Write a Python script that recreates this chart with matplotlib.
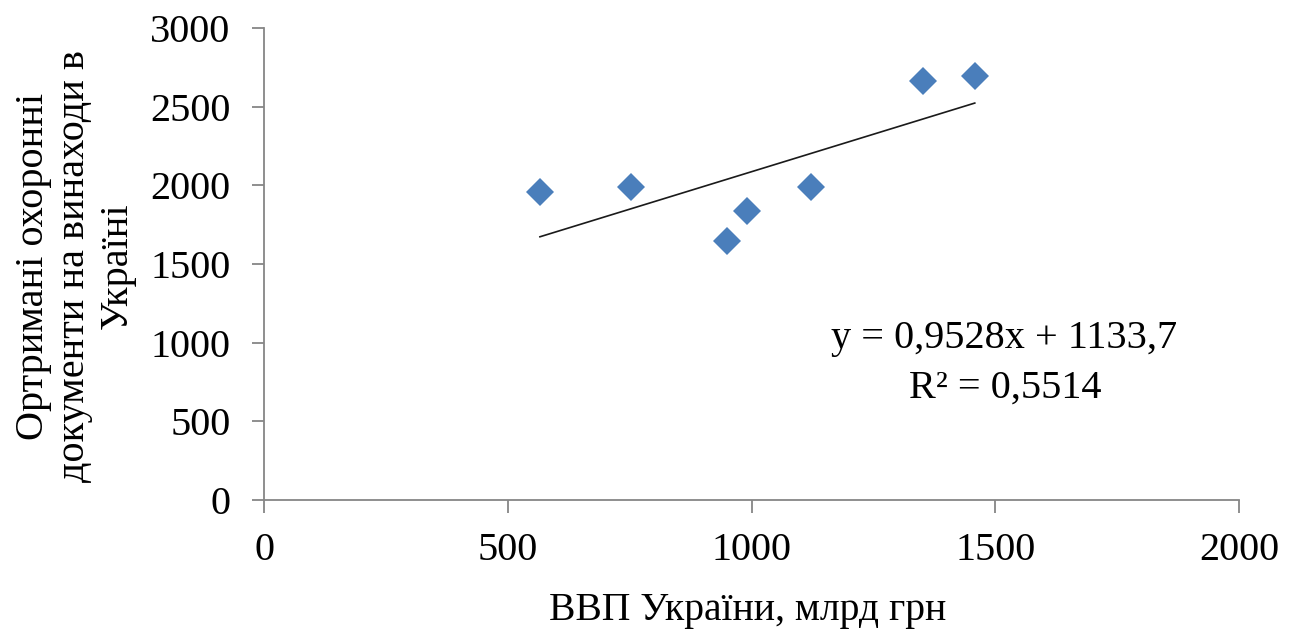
import matplotlib
matplotlib.use("Agg")
import matplotlib.pyplot as plt
import numpy as np

gdp = [566, 753, 950, 991, 1122, 1352, 1458]
patents = [1958, 1990, 1646, 1837, 1990, 2664, 2695]
slope = 0.9528
intercept = 1133.7
eq_line1 = "y = 0,9528x + 1133,7"
eq_line2 = "R² = 0,5514"
x_ticks = [0, 500, 1000, 1500, 2000]
y_ticks = [0, 500, 1000, 1500, 2000, 2500, 3000]
x_label = "ВВП України, млрд грн"
y_label = "Ортримані охоронні\nдокументи на винаходи в\nУкраїні"

W, H = 1293, 630
plt.rcParams['font.family'] = ['Liberation Serif', 'DejaVu Serif']
fig = plt.figure(figsize=(W/100, H/100), dpi=100)
ax = fig.add_axes([264/W, 1-500/H, (1239-264)/W, (500-28)/H])

xs = np.array([min(gdp), max(gdp)])
ax.plot(xs, slope*xs + intercept, color='#1a1a1a', lw=1.2, zorder=2)
ax.plot(gdp, patents, linestyle='none', marker='D', markersize=14,
        color='#4A7EBB', markeredgewidth=0, zorder=3)

ax.set_xlim(0, 2000)
ax.set_ylim(0, 3000)
ax.set_xticks(x_ticks)
ax.set_yticks(y_ticks)
for s in ['top', 'right']:
    ax.spines[s].set_visible(False)
for s in ['left', 'bottom']:
    ax.spines[s].set_color('#868686')
    ax.spines[s].set_linewidth(1.3)
ax.tick_params(axis='both', colors='#868686', length=9, width=1.3,
               labelsize=29, labelcolor='black', direction='out')
ax.tick_params(axis='y', pad=15)
ax.tick_params(axis='x', pad=14)

fig.text(1004/W, 1-348/H, eq_line1, fontsize=29, ha='center', va='baseline')
fig.text(1005/W, 1-398/H, eq_line2, fontsize=29, ha='center', va='baseline')

fig.text(748/W, 1-620/H, x_label, fontsize=28.5, ha='center', va='baseline')
fig.text(75/W, 1-266/H, y_label, fontsize=29, ha='center', va='center',
         rotation=90, multialignment='center', linespacing=1.17)

fig.savefig('out.png', dpi=100, facecolor='white')
